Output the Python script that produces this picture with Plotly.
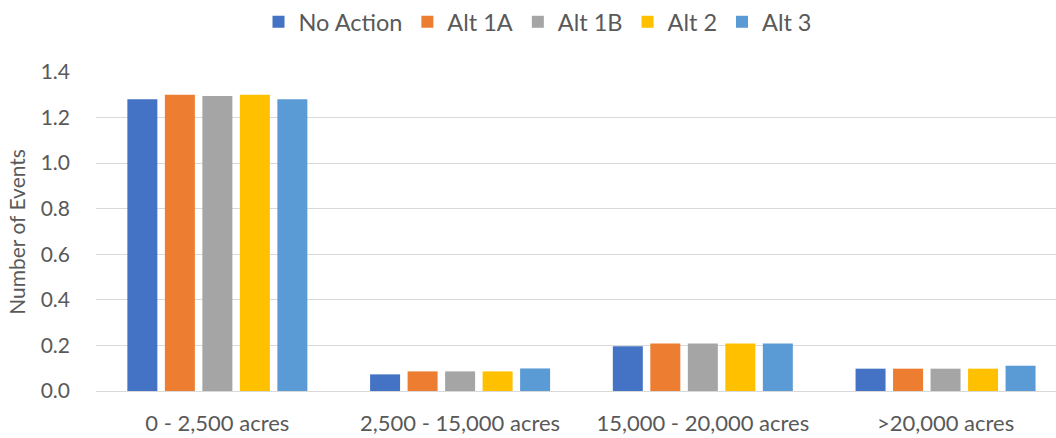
import plotly.graph_objects as go

categories = ["0 - 2,500 acres", "2,500 - 15,000 acres", "15,000 - 20,000 acres", ">20,000 acres"]
series_names = ["No Action", "Alt 1A", "Alt 1B", "Alt 2", "Alt 3"]
no_action = [1.28, 0.073, 0.196, 0.098]
alt_1a = [1.30, 0.086, 0.209, 0.098]
alt_1b = [1.295, 0.086, 0.209, 0.098]
alt_2 = [1.30, 0.086, 0.209, 0.098]
alt_3 = [1.28, 0.099, 0.209, 0.111]
colors = ["#4472C4", "#ED7D31", "#A5A5A5", "#FFC000", "#5B9BD5"]

font_family = "Lato, Calibri, Carlito, sans-serif"
text_color = "#595959"

fig = go.Figure()
for name, vals, col in zip(series_names, [no_action, alt_1a, alt_1b, alt_2, alt_3], colors):
    fig.add_trace(go.Bar(name=name, x=categories, y=vals, marker=dict(color=col, line=dict(width=0))))

fig.update_layout(
    width=1056, height=438,
    barmode="group", bargap=0.2275, bargroupgap=0.2,
    paper_bgcolor="white", plot_bgcolor="white",
    margin=dict(l=96, r=0, t=72, b=47, autoexpand=False),
    font=dict(family=font_family, color=text_color, size=21),
    legend=dict(orientation="h", xref="container", x=0.509, xanchor="center",
                yref="container", y=1.0, yanchor="top",
                font=dict(size=23.5, color=text_color), itemwidth=30, traceorder="normal"),
    xaxis=dict(showgrid=False, showline=False, ticks="", automargin=False, range=[-0.5, 3.455],
               ticklabelstandoff=17, tickfont=dict(size=22, color=text_color)),
    yaxis=dict(range=[0, 1.4], dtick=0.2, tickformat=".1f", showgrid=True, gridcolor="#D9D9D9", gridwidth=1,
               zeroline=True, zerolinecolor="#D9D9D9", zerolinewidth=1, ticks="", ticklabelstandoff=25,
               automargin=False, tickfont=dict(size=21, color=text_color)),
    annotations=[dict(text="Number of Events", xref="paper", yref="paper", x=-0.083, y=0.5,
                      xanchor="center", yanchor="middle", textangle=-90, showarrow=False,
                      font=dict(size=21, color=text_color))],
)

fig.write_html("out.html", config={"displayModeBar": False},
               post_script="document.body.style.margin='0';document.body.style.overflow='hidden';")
